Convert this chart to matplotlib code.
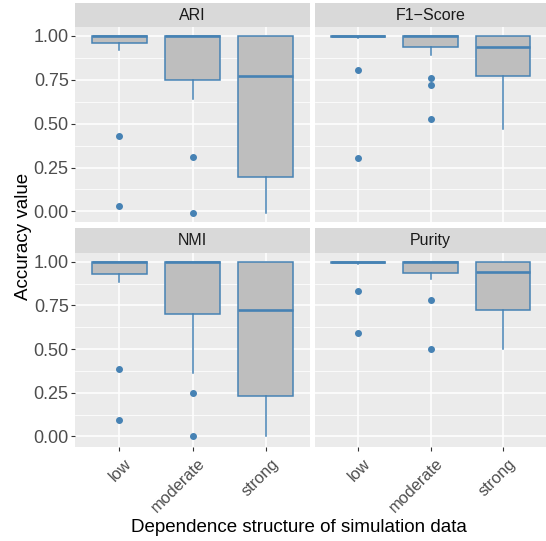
import numpy as np
import matplotlib.pyplot as plt
import matplotlib.transforms as mtransforms

# boxplot statistics
groups = ['low', 'moderate', 'strong']
metrics = ['ARI', 'F1\u2212Score', 'NMI', 'Purity']

q1 = {'ARI': [0.960, 0.748, 0.195], 'F1\u2212Score': [0.992, 0.935, 0.771],
      'NMI': [0.931, 0.702, 0.233], 'Purity': [0.992, 0.935, 0.725]}
med = {'ARI': [1.0, 1.0, 0.771], 'F1\u2212Score': [1.0, 1.0, 0.935],
       'NMI': [1.0, 1.0, 0.725], 'Purity': [1.0, 1.0, 0.943]}
q3 = {'ARI': [1.0, 1.0, 1.0], 'F1\u2212Score': [1.0, 1.0, 1.0],
      'NMI': [1.0, 1.0, 1.0], 'Purity': [1.0, 1.0, 1.0]}
wlo = {'ARI': [0.922, 0.639, -0.01], 'F1\u2212Score': [0.985, 0.893, 0.471],
       'NMI': [0.882, 0.361, 0.0], 'Purity': [0.985, 0.903, 0.502]}
whi = {'ARI': [1.0, 1.0, 1.0], 'F1\u2212Score': [1.0, 1.0, 1.0],
       'NMI': [1.0, 1.0, 1.0], 'Purity': [1.0, 1.0, 1.0]}
outl = {'ARI': [[0.43, 0.029], [0.307, -0.011], []],
        'F1\u2212Score': [[0.805, 0.303], [0.76, 0.718, 0.529], []],
        'NMI': [[0.389, 0.095], [0.248, 0.0], []],
        'Purity': [[0.832, 0.59], [0.782, 0.5], []]}

W, H = 546, 541
plt.rcParams['font.family'] = ['Liberation Sans', 'DejaVu Sans']
fig = plt.figure(figsize=(W / 100, H / 100), dpi=100)

cols = [(75, 310), (315, 546)]
rows = [(3, 27, 222), (228, 253, 447)]
blue = '#4682B4'

for i, m in enumerate(metrics):
    r, c = divmod(i, 2)
    x0, x1 = cols[c]
    s0, p0, p1 = rows[r]
    ax = fig.add_axes([x0 / W, 1 - p1 / H, (x1 - x0) / W, (p1 - p0) / H])
    sax = fig.add_axes([x0 / W, 1 - p0 / H, (x1 - x0) / W, (p0 - s0) / H])
    sax.set_facecolor('#D9D9D9')
    sax.set_xticks([]); sax.set_yticks([])
    for sp in sax.spines.values():
        sp.set_visible(False)
    sax.text(0.5, 0.5, m, ha='center', va='center', fontsize=11.5, color='#1A1A1A',
             transform=sax.transAxes)

    stats = []
    for k in range(3):
        stats.append(dict(q1=q1[m][k], med=med[m][k], q3=q3[m][k], whislo=wlo[m][k],
                          whishi=whi[m][k], fliers=outl[m][k]))
    ax.set_facecolor('#EBEBEB')
    ax.set_yticks(np.arange(0.125, 1.0, 0.25), minor=True)
    ax.grid(True, which='major', color='white', lw=1.1)
    ax.grid(True, which='minor', axis='y', color='white', lw=0.55)
    ax.set_axisbelow(True)
    ax.bxp(stats, positions=[1, 2, 3], widths=0.75, patch_artist=True, showcaps=False,
           boxprops=dict(facecolor='#BEBEBE', edgecolor=blue, lw=1.1),
           medianprops=dict(color=blue, lw=1.9),
           whiskerprops=dict(color=blue, lw=1.1),
           flierprops=dict(marker='o', markerfacecolor=blue, markeredgecolor=blue,
                           markersize=4, linestyle='none'))
    ax.set_xlim(0.4, 3.6)
    ax.set_ylim(-0.0605, 1.0505)
    ax.set_yticks([0, 0.25, 0.5, 0.75, 1.0])
    for sp in ax.spines.values():
        sp.set_visible(False)
    ax.tick_params(which='minor', length=0)
    ax.tick_params(which='major', length=3, color='#333333', labelcolor='#4D4D4D', labelsize=13)
    ax.tick_params(axis='y', pad=1.5)
    if c == 0:
        ax.set_yticklabels(['0.00', '0.25', '0.50', '0.75', '1.00'])
    else:
        ax.tick_params(axis='y', length=0, labelleft=False)
    ax.set_xticks([1, 2, 3])
    if r == 1:
        ax.set_xticklabels(groups, rotation=45, ha='right', rotation_mode='anchor', fontsize=11.8)
        shift = mtransforms.ScaledTranslation(5 / 100, 0, fig.dpi_scale_trans)
        for lab in ax.get_xticklabels():
            lab.set_transform(lab.get_transform() + shift)
    else:
        ax.tick_params(axis='x', labelbottom=False, length=0)

fig.text(299 / W, 1 - 527 / H, 'Dependence structure of simulation data', ha='center', va='center',
         fontsize=13.5)
fig.text(24 / W, 1 - 236 / H, 'Accuracy value', rotation=90, ha='center', va='center', fontsize=13.5)

fig.savefig('out.png', dpi=100)
